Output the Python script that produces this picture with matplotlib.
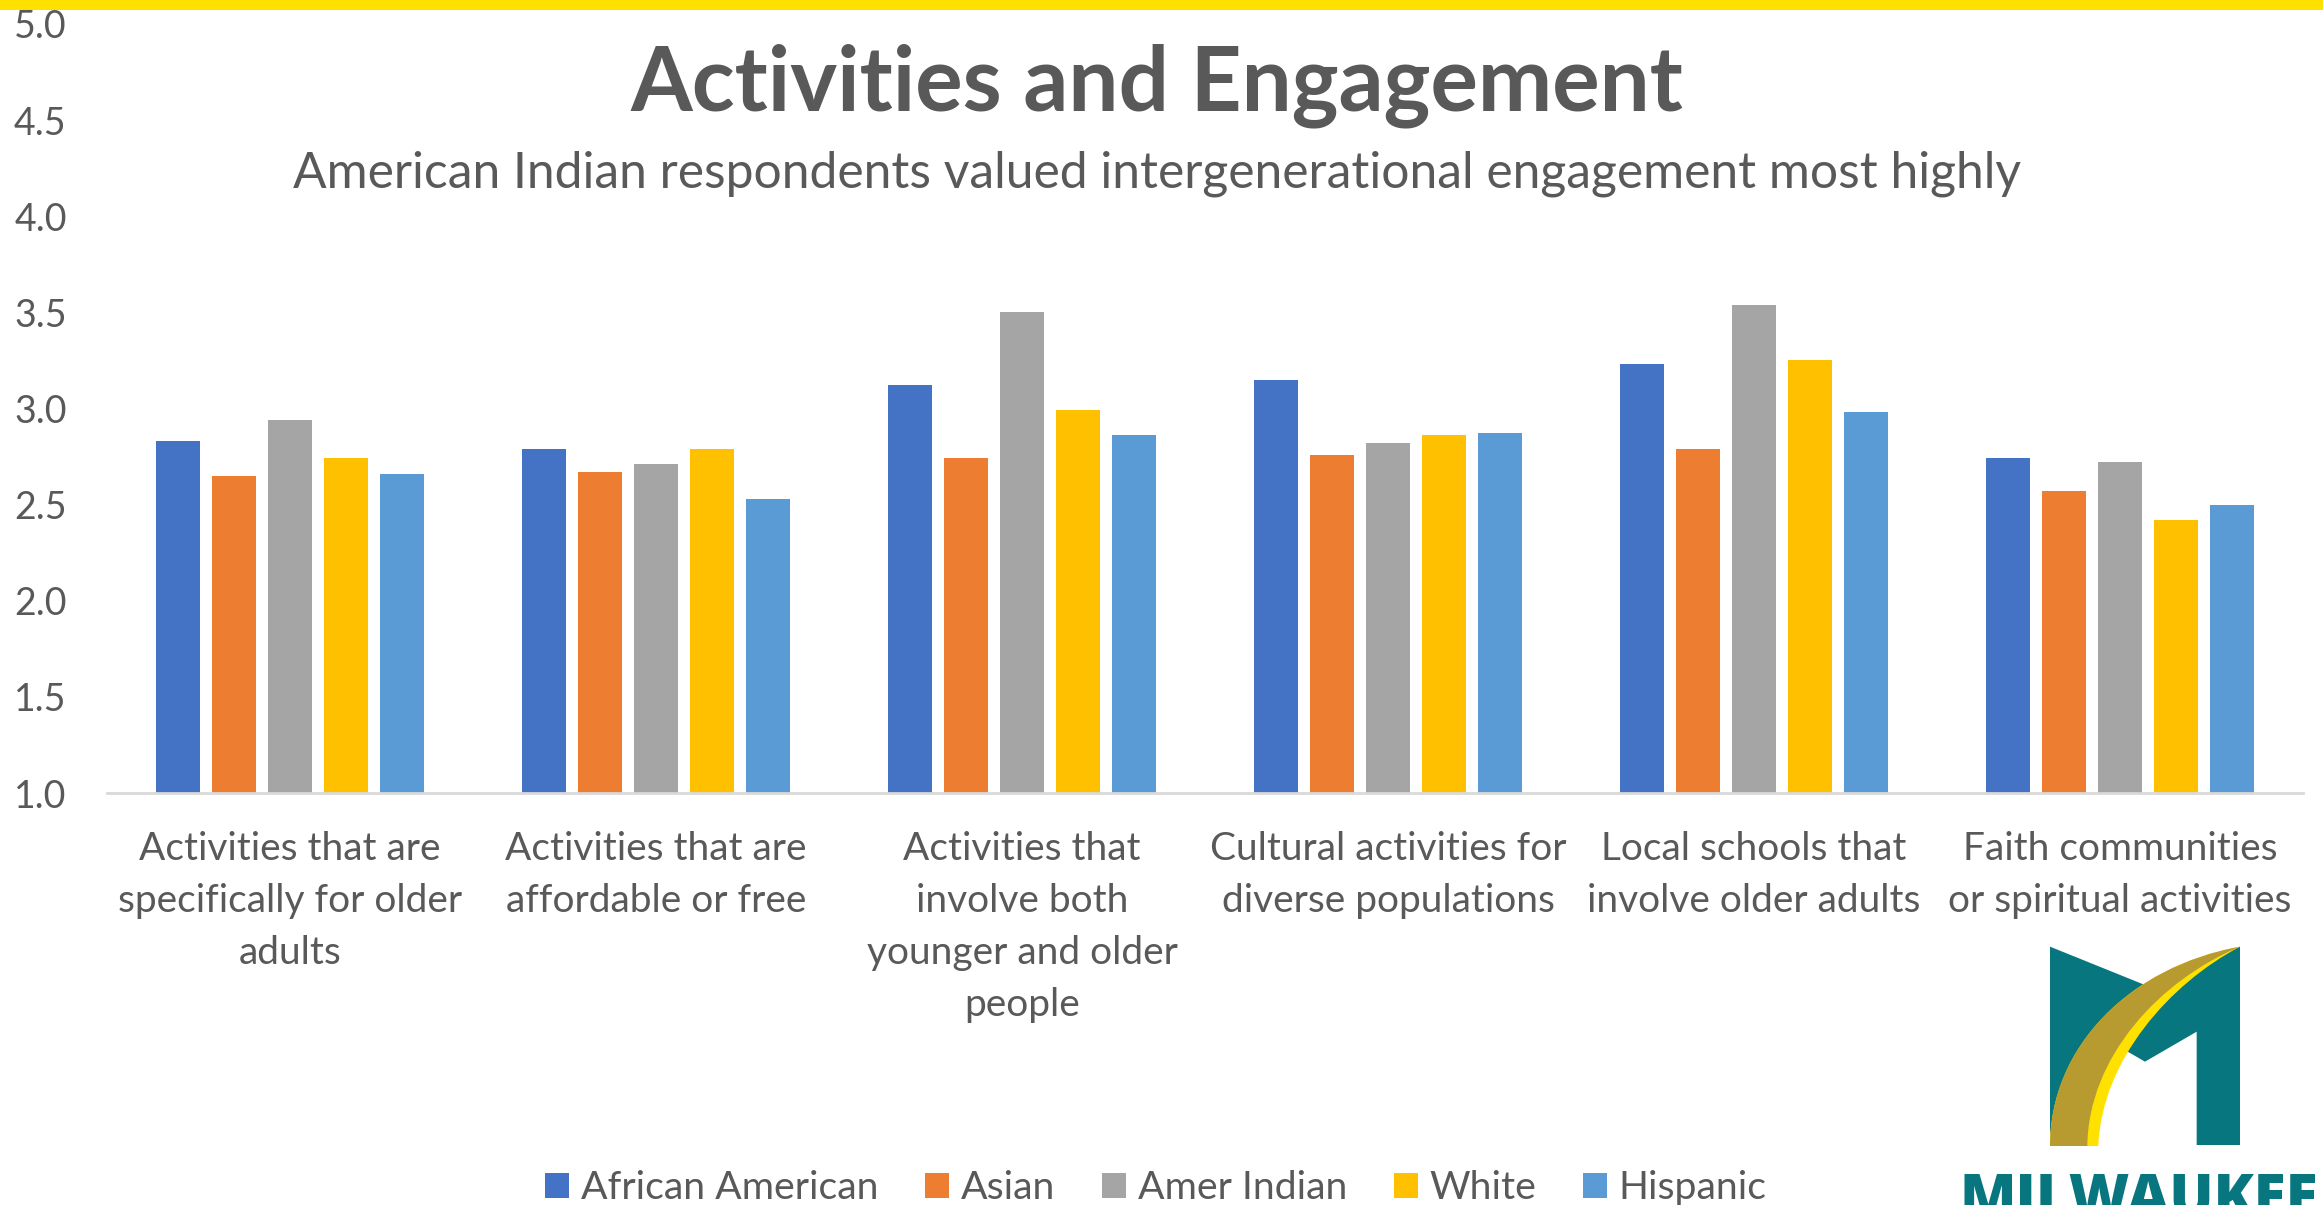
import matplotlib.pyplot as plt
import numpy as np
from matplotlib.path import Path
from matplotlib.patches import PathPatch, Polygon, Rectangle

# chart data
categories = [
    "Activities that are\nspecifically for older\nadults",
    "Activities that are\naffordable or free",
    "Activities that\ninvolve both\nyounger and older\npeople",
    "Cultural activities for\ndiverse populations",
    "Local schools that\ninvolve older adults",
    "Faith communities\nor spiritual activities",
]
groups = ["African American", "Asian", "Amer Indian", "White", "Hispanic"]
african_american = [2.83, 2.79, 3.12, 3.15, 3.23, 2.74]
asian = [2.65, 2.67, 2.74, 2.76, 2.79, 2.57]
amer_indian = [2.94, 2.71, 3.50, 2.82, 3.54, 2.72]
white = [2.74, 2.79, 2.99, 2.86, 3.25, 2.42]
hispanic = [2.66, 2.53, 2.86, 2.87, 2.98, 2.50]
y_ticks = [1.0, 1.5, 2.0, 2.5, 3.0, 3.5, 4.0, 4.5, 5.0]

colors = ["#4472C4", "#ED7D31", "#A5A5A5", "#FFC000", "#5B9BD5"]
text_color = "#595959"

plt.rcParams['font.family'] = ['Lato', 'DejaVu Sans']

W, H = 2323, 1205
fig = plt.figure(figsize=(W / 100, H / 100), dpi=100)
ax = fig.add_axes([107 / W, 1 - 793 / H, 2196 / W, (793 - 24) / H])

series = [african_american, asian, amer_indian, white, hispanic]
x = np.arange(len(categories))
pitch = 0.153
bar_w = 0.120
for i, (name, vals) in enumerate(zip(groups, series)):
    ax.bar(x + (i - 2) * pitch, np.array(vals) - 1.0, bottom=1.0, width=bar_w,
           color=colors[i], label=name)

ax.set_xlim(-0.5, len(categories) - 0.5)
ax.set_ylim(1.0, 5.0)
ax.set_yticks(y_ticks)
ax.set_yticklabels([f"{v:.1f}" for v in y_ticks])
ax.set_xticks(x)
ax.set_xticklabels(categories, linespacing=1.56)
ax.tick_params(axis='y', length=0, pad=29, labelsize=27, labelcolor=text_color)
ax.tick_params(axis='x', length=0, pad=27, labelsize=28, labelcolor=text_color)
for s in ['top', 'right', 'left']:
    ax.spines[s].set_visible(False)
ax.spines['bottom'].set_color('#D9D9D9')
ax.spines['bottom'].set_linewidth(2)

fig.text(1157 / W, 1 - 86 / H, "Activities and Engagement", ha='center', va='center',
         fontsize=64, fontweight='bold', color=text_color)
fig.text(1157 / W, 1 - 174 / H,
         "American Indian respondents valued intergenerational engagement most highly",
         ha='center', va='center', fontsize=35.8, color=text_color)

leg = fig.legend(loc='center', bbox_to_anchor=(1156 / W, 1 - 1188 / H), ncol=5,
                 frameon=False, fontsize=28.3, handlelength=0.6, handleheight=0.6,
                 handletextpad=0.3, columnspacing=1.2, labelcolor=text_color)

# overlay for decorations (top band and logo) in pixel coords
ov = fig.add_axes([0, 0, 1, 1], zorder=5)
ov.set_xlim(0, W)
ov.set_ylim(H, 0)
ov.axis('off')
ov.patch.set_alpha(0)
ov.add_patch(Rectangle((0, 0), W, 10, color="#FFE000", lw=0))


def lp(zx, zy):
    return (1900 + zx / 3, 900 + zy / 3)


teal = "#07767E"
gold = "#B89B30"
logo_yellow = "#FFE100"
m_pts = [lp(450, 140), lp(735, 255), lp(1020, 140), lp(1020, 735), lp(890, 735),
         lp(890, 395), lp(735, 485), lp(640, 430), lp(450, 700)]
ov.add_patch(Polygon(m_pts, closed=True, color=teal, lw=0))

yellow_path = Path([lp(450, 738), lp(450, 440), lp(690, 200), lp(1020, 140),
                    lp(810, 250), lp(605, 480), lp(595, 738), lp(450, 738)],
                   [Path.MOVETO, Path.CURVE4, Path.CURVE4, Path.CURVE4,
                    Path.CURVE4, Path.CURVE4, Path.CURVE4, Path.CLOSEPOLY])
ov.add_patch(PathPatch(yellow_path, color=logo_yellow, lw=0))
gold_path = Path([lp(450, 738), lp(450, 440), lp(690, 200), lp(1020, 140),
                  lp(780, 240), lp(565, 470), lp(562, 738), lp(450, 738)],
                 [Path.MOVETO, Path.CURVE4, Path.CURVE4, Path.CURVE4,
                  Path.CURVE4, Path.CURVE4, Path.CURVE4, Path.CLOSEPOLY])
ov.add_patch(PathPatch(gold_path, color=gold, lw=0))
ov.text(1960, 1170, "MILWAUKEE", ha='left', va='top', fontsize=42,
        fontweight='heavy', color=teal, family=['Open Sans', 'DejaVu Sans'])

fig.savefig("out.png", dpi=100)
